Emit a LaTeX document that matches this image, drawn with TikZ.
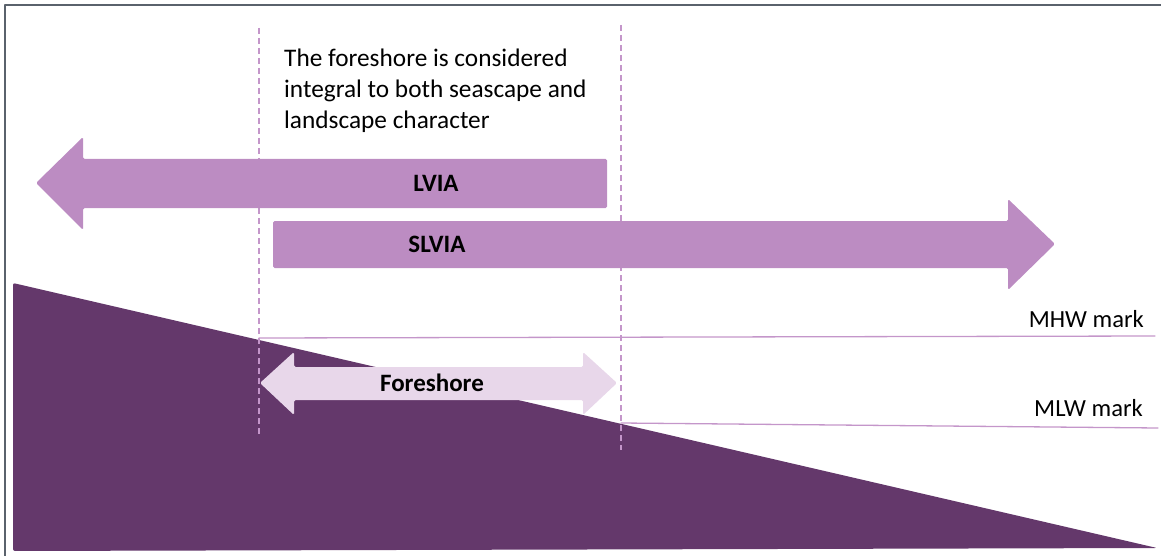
\documentclass[tikz,border=0pt]{standalone}
\usepackage{fontspec}
\setmainfont{Carlito}
\usetikzlibrary{positioning}

\definecolor{lightplum}{RGB}{188,140,194}
\definecolor{paleplum}{RGB}{232,215,234}
\definecolor{darkplum}{RGB}{100,56,107}
\definecolor{guideplum}{RGB}{196,150,202}
\definecolor{framegray}{RGB}{90,98,108}

\begin{document}
\begin{tikzpicture}[x=1pt, y=-1pt, line cap=round, line join=round,
  bigarrow/.style={fill=lightplum, rounded corners=1.5pt},
  tideline/.style={guideplum, line width=1.3pt},
  guide/.style={guideplum, line width=1.4pt, line cap=butt, dash pattern=on 6pt off 4pt},
  lbl/.style={font=\fontsize{25}{30}\selectfont\bfseries, inner sep=0pt, anchor=base},
  tidelbl/.style={font=\fontsize{24.6}{29}\selectfont, inner sep=0pt, anchor=base east}]

\useasboundingbox (0,0) rectangle (1161,556);

\draw[framegray, line width=1.6pt] (5,556) -- (5,5) -- (1161,5);

\fill[darkplum, rounded corners=2pt] (13,283) -- (1157,548) -- (13,551) -- cycle;

\draw[tideline] (259,338) -- (1155,336);
\draw[tideline] (621,423) -- (1158,428);
\node[tidelbl] (mhw) at (1144,327) {MHW mark};
\node[tidelbl] (mlw) at (1143,416) {MLW mark};

\fill[paleplum, rounded corners=1.5pt] (260,383) -- (294,352) -- (294,367) -- (583,367) -- (583,352)
  -- (617,383) -- (583,415) -- (583,400) -- (294,400) -- (294,415) -- cycle;
\node[lbl] (fore) at (432,391) {Foreshore};

\coordinate (gA) at (259,28);
\coordinate (gB) at (621,25);
\draw[guide] (gA) -- ++(0,409);
\draw[guide] (gB) -- ++(0,425);

\fill[bigarrow] (36,183) -- (83,137) -- (83,159) -- (607,159) -- (607,208) -- (83,208) -- (83,230) -- cycle;
\node[lbl] (lvia) at (436,192) {LVIA};

\fill[bigarrow] (273,221) -- (1008,221) -- (1008,199) -- (1055,244) -- (1008,290) -- (1008,268) -- (273,268) -- cycle;
\node[lbl] (slvia) at (437,252) {SLVIA};

\node[font=\fontsize{25.3}{31}\selectfont, align=left, inner sep=0pt, anchor=north west] (note) at (284,49)
  {The foreshore is considered\\integral to both seascape and\\landscape character};

\end{tikzpicture}
\end{document}
